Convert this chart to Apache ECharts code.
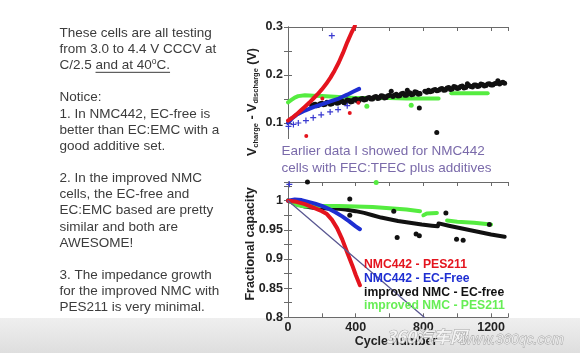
<!DOCTYPE html>
<html><head><meta charset="utf-8">
<script src="https://cdn.jsdelivr.net/npm/echarts@6/dist/echarts.min.js"></script>
<style>html,body{margin:0;padding:0;background:#fff}#c{width:580px;height:353px}</style>
</head><body><div id="c"></div>
<script>
// ---------- data ----------
const xTickLabels = [0, 400, 800, 1200];
const yTopTickLabels = [0.1, 0.2, 0.3];
const yBotTickLabels = [0.8, 0.85, 0.9, 0.95, 1];
const legendNames = ['NMC442 - PES211', 'NMC442 - EC-Free', 'improved NMC - EC-free', 'improved NMC - PES211'];

// top panel: Vcharge - Vdischarge (V) vs cycle
const topRed = [[0,0.105],[25,0.111],[50,0.118],[75,0.126],[100,0.134],[125,0.142],[150,0.151],[175,0.16],[200,0.17],[225,0.181],[250,0.194],[275,0.209],[300,0.226],[325,0.246],[350,0.268],[375,0.288],[395,0.302]];
const topRedPts = [[108,0.073],[203,0.151],[365,0.121],[416,0.142]];
const topBlue = [[0,0.1],[25,0.11],[50,0.117],[100,0.126],[150,0.133],[200,0.139],[250,0.145],[300,0.151],[350,0.159],[390,0.166],[420,0.171]];
const topBluePlus = [[3,0.093],[32,0.097],[61,0.1],[106,0.105],[149,0.111],[196,0.117],[249,0.123],[296,0.128],[350,0.136],[259,0.282]];
const topGreenA = [[0,0.143],[20,0.148],[40,0.153],[60,0.156],[100,0.158],[150,0.157],[200,0.156],[250,0.155],[300,0.154],[350,0.153],[400,0.152],[500,0.152],[600,0.152],[700,0.151],[800,0.151],[890,0.151]];
const topGreenB = [[965,0.162],[1060,0.162],[1180,0.162]];
const topGreenPts = [[466,0.135],[728,0.137]];
const topBlackA = [[140,0.137],[200,0.14],[300,0.144],[400,0.149],[500,0.153],[600,0.157],[700,0.161],[780,0.163]];
const topBlackB = [[805,0.166],[900,0.17],[1000,0.174],[1100,0.178],[1200,0.181],[1280,0.184]];
const topBlackDots = [[140,0.136],[150,0.138],[160,0.139],[170,0.136],[180,0.137],[190,0.14],[200,0.141],[210,0.138],[220,0.139],[230,0.143],[240,0.142],[250,0.139],[260,0.14],[270,0.143],[280,0.144],[290,0.141],[300,0.142],[310,0.145],[320,0.146],[330,0.142],[340,0.143],[350,0.148],[360,0.147],[370,0.144],[380,0.145],[390,0.149],[400,0.15],[410,0.146],[420,0.147],[430,0.15],[440,0.151],[450,0.148],[460,0.149],[470,0.152],[480,0.153],[490,0.15],[500,0.15],[510,0.154],[520,0.155],[530,0.151],[540,0.152],[550,0.157],[560,0.156],[570,0.152],[580,0.153],[590,0.157],[600,0.158],[610,0.166],[620,0.155],[630,0.158],[640,0.16],[650,0.156],[660,0.157],[670,0.161],[680,0.162],[690,0.158],[700,0.158],[705,0.168],[710,0.161],[720,0.163],[730,0.159],[740,0.16],[750,0.165],[760,0.164],[770,0.16],[780,0.161],[810,0.166],[820,0.164],[830,0.168],[840,0.165],[850,0.166],[860,0.169],[870,0.17],[880,0.167],[890,0.168],[900,0.171],[910,0.172],[920,0.168],[930,0.169],[940,0.173],[950,0.174],[960,0.17],[970,0.171],[980,0.176],[990,0.175],[1000,0.172],[1010,0.173],[1020,0.176],[1030,0.177],[1040,0.173],[1050,0.174],[1060,0.182],[1070,0.178],[1080,0.176],[1090,0.175],[1100,0.179],[1110,0.179],[1120,0.176],[1130,0.177],[1140,0.181],[1150,0.18],[1160,0.177],[1170,0.178],[1180,0.181],[1190,0.182],[1200,0.179],[1210,0.179],[1220,0.182],[1230,0.183],[1240,0.188],[1250,0.181],[1260,0.184],[1270,0.185],[1280,0.183]];
const topBlackOut = [[776,0.131],[879,0.08]];

// bottom panel: fractional capacity vs cycle
const botRed = [[0,1.0],[50,0.998],[100,0.994],[150,0.988],[200,0.982],[230,0.977],[260,0.967],[290,0.953],[320,0.934],[350,0.911],[380,0.889],[400,0.873],[425,0.855]];
const botBlue = [[0,1.0],[40,1.002],[80,1.001],[120,0.998],[160,0.995],[200,0.991],[240,0.986],[280,0.98],[320,0.973],[360,0.965],[400,0.956],[425,0.951]];
const botBluePlus = [[8,1.028]];
const botGreenA = [[0,1.0],[30,0.996],[60,0.992],[100,0.99],[200,0.991],[300,0.991],[400,0.99],[500,0.989],[600,0.987],[700,0.985],[780,0.982]];
const botGreenB = [[800,0.975],[820,0.978],[880,0.979]];
const botGreenC = [[940,0.966],[1000,0.964],[1100,0.962],[1200,0.959]];
const botGreenPts = [[521,1.031]];
const botBlack = [[0,1.0],[50,0.994],[100,0.99],[150,0.988],[200,0.987],[300,0.986],[340,0.985],[350,0.983],[400,0.982],[450,0.979],[500,0.975],[550,0.971],[600,0.968],[650,0.965],[700,0.963],[750,0.961],[790,0.959],[800,0.957],[850,0.957],[885,0.956],[890,0.961],[950,0.957],[1000,0.954],[1050,0.951],[1100,0.948],[1150,0.945],[1200,0.942],[1280,0.938]];
const botBlackPts = [[115,1.032],[365,1.003],[365,0.975],[625,0.982],[645,0.937],[757,0.943],[776,0.94],[933,0.979],[996,0.934],[1035,0.932],[1190,0.959]];
const botDiag = [[0,1.0],[805,0.8]];

// ---------- styling ----------
const FONT = "'Liberation Sans', Arial, Helvetica, sans-serif";
const C_RED = '#e4141e', C_BLUE = '#1e2ed2', C_BLACK = '#111111', C_GREEN = '#55ec40', C_PURPLE = '#5a5892';
const AX = '#6a6a6a';
const near = (v, arr) => arr.some(a => Math.abs(a - v) < 1e-6);

function xAxisDef(grid, pos, labels) {
  return {
    type: 'value', gridIndex: grid, position: pos, min: 0, max: 1300, interval: 200,
    axisLine: { show: !(grid === 0 && pos === 'bottom'), lineStyle: { color: AX, width: 1 } },
    axisTick: { show: !(grid === 0 && pos === 'bottom'), inside: true, length: 4, lineStyle: { color: AX } },
    splitLine: { show: false },
    axisLabel: labels ? {
      show: true, margin: 4, fontFamily: FONT, fontSize: 12.5, fontWeight: 'bold', color: '#222',
      formatter: v => near(v, xTickLabels) ? String(v) : ''
    } : { show: false }
  };
}
function yAxisDef(grid, pos, min, max, interval, labels, labelArr) {
  return {
    type: 'value', gridIndex: grid, position: pos, min, max, interval,
    axisLine: { show: true, lineStyle: { color: AX, width: 1 } },
    axisTick: { show: true, inside: true, length: 4, lineStyle: { color: AX } },
    splitLine: { show: false },
    axisLabel: labels ? {
      show: true, margin: 5, fontFamily: FONT, fontSize: 12.5, fontWeight: 'bold', color: '#222',
      showMaxLabel: true,
      formatter: v => near(v, labelArr) ? String(+v.toFixed(2)) : ''
    } : { show: false }
  };
}
function lineS(data, color, w, xi, yi, z) {
  return { type: 'line', data, xAxisIndex: xi, yAxisIndex: yi, showSymbol: false, symbol: 'none',
    lineStyle: { color, width: w, cap: 'round', join: 'round' }, z: z || 2, animation: false, clip: true, silent: true };
}
function dotS(data, color, size, xi, yi, symbol, z) {
  return { type: 'scatter', data, xAxisIndex: xi, yAxisIndex: yi, symbol: symbol || 'circle', symbolSize: size,
    itemStyle: { color, opacity: 1 }, z: z || 3, animation: false, silent: true };
}
const PLUS = 'path://M4,0h2v4h4v2h-4v4h-2v-4h-4v-2h4z';

// ---------- left text ----------
const ctx = document.createElement('canvas').getContext('2d');
const TFS = 13.5;
ctx.font = TFS + 'px ' + FONT;
const textLines = [
  'These cells are all testing',
  'from 3.0 to 4.4 V CCCV at',
  '__DEG__',
  '',
  'Notice:',
  '1. In NMC442, EC-free is',
  'better than EC:EMC with a',
  'good additive set.',
  '',
  '2. In the improved NMC',
  'cells, the EC-free and',
  'EC:EMC based are pretty',
  'similar and both are',
  'AWESOME!',
  '',
  '3. The impedance growth',
  'for the improved NMC with',
  'PES211 is very minimal.'
];
const TX = 59.5, TY0 = 33, TLH = 16.16;
const graphics = [];
// bottom gray band of the slide photo
graphics.push({ type: 'rect', z: -5, shape: { x: 0, y: 318, width: 580, height: 35 },
  style: { fill: new echarts.graphic.LinearGradient(0, 0, 0, 1, [{ offset: 0, color: '#efefef' }, { offset: 1, color: '#dedede' }]) } });

textLines.forEach((t, i) => {
  if (!t) return;
  const y = TY0 + i * TLH;
  if (t === '__DEG__') {
    const pre = 'C/2.5 ', mid = 'and at 40', post = 'C.';
    graphics.push({ type: 'text', x: TX, y, z: 50,
      style: { text: pre + mid + '{s|o}' + post, fontFamily: FONT, fontSize: TFS, fill: '#3c3c3c',
        align: 'left', verticalAlign: 'middle', textAlign: 'left', textVerticalAlign: 'middle',
        rich: { s: { fontFamily: FONT, fontSize: 8.5, fill: '#3c3c3c', padding: [0, 0, 8, 0] } } } });
    ctx.font = TFS + 'px ' + FONT;
    const x0 = TX + ctx.measureText(pre).width;
    const w1 = ctx.measureText(mid).width + ctx.measureText(post).width;
    ctx.font = '8.5px ' + FONT;
    const w2 = ctx.measureText('o').width;
    graphics.push({ type: 'line', z: 50, shape: { x1: x0, y1: y + 7, x2: x0 + w1 + w2, y2: y + 7 }, style: { stroke: '#3c3c3c', lineWidth: 1 } });
  } else {
    graphics.push({ type: 'text', x: TX, y, z: 50,
      style: { text: t, fontFamily: FONT, fontSize: TFS, fill: '#3c3c3c', align: 'left', verticalAlign: 'middle', textAlign: 'left', textVerticalAlign: 'middle' } });
  }
});

// caption box over the gap between panels
graphics.push({ type: 'rect', z: 40, shape: { x: 272, y: 139, width: 242, height: 40 }, style: { fill: '#ffffff' } });
['Earlier data I showed for NMC442', 'cells with FEC:TFEC plus additives'].forEach((t, i) => {
  graphics.push({ type: 'text', x: 281.5, y: 151.7 + i * 16.3, z: 50,
    style: { text: t, fontFamily: FONT, fontSize: 13.5, fill: '#7a6aaa', align: 'left', verticalAlign: 'middle', textAlign: 'left', textVerticalAlign: 'middle' } });
});

// axis titles
graphics.push({ type: 'text', x: 253, y: 102, rotation: Math.PI / 2, z: 50,
  style: { text: '{m|V}{s|charge}{m| - V}{s|discharge}{m| (V)}', fontFamily: FONT, align: 'center', verticalAlign: 'middle', textAlign: 'center', textVerticalAlign: 'middle',
    rich: { m: { fontFamily: FONT, fontSize: 12.5, fontWeight: 'bold', fill: '#222' },
            s: { fontFamily: FONT, fontSize: 7.5, fontWeight: 'bold', fill: '#222', padding: [6, 0, 0, 0] } } } });
graphics.push({ type: 'text', x: 250.7, y: 244, rotation: Math.PI / 2, z: 50,
  style: { text: 'Fractional capacity', fontFamily: FONT, fontSize: 12.5, fontWeight: 'bold', fill: '#222', align: 'center', verticalAlign: 'middle', textAlign: 'center', textVerticalAlign: 'middle' } });
graphics.push({ type: 'text', x: 396, y: 341.5, z: 50,
  style: { text: 'Cycle number', fontFamily: FONT, fontSize: 12.5, fontWeight: 'bold', fill: '#222', align: 'center', verticalAlign: 'middle', textAlign: 'center', textVerticalAlign: 'middle' } });

// legend texts inside the bottom panel
const legColors = [C_RED, C_BLUE, C_BLACK, '#66ee55'];
legendNames.forEach((t, i) => {
  graphics.push({ type: 'text', x: 364, y: [265, 278.5, 292.5, 305.5][i], z: 50,
    style: { text: t, fontFamily: FONT, fontSize: 12.2, fontWeight: 'bold', fill: legColors[i], align: 'left', verticalAlign: 'middle', textAlign: 'left', textVerticalAlign: 'middle' } });
});

// watermark
graphics.push({ type: 'text', x: 386, y: 337, z: 60,
  style: { text: '360汽车网', fontFamily: "'Noto Sans CJK SC', sans-serif", fontSize: 17, fontWeight: 'bold', fontStyle: 'italic', fill: 'rgba(248,248,248,0.8)', stroke: '#a0a0a0', lineWidth: 0.8, align: 'left', verticalAlign: 'middle', textAlign: 'left', textVerticalAlign: 'middle' } });
graphics.push({ type: 'text', x: 462, y: 340, z: 60,
  style: { text: 'www.360qc.com', fontFamily: FONT, fontSize: 14, fontStyle: 'italic', fill: 'rgba(248,248,248,0.8)', stroke: '#a0a0a0', lineWidth: 0.8, align: 'left', verticalAlign: 'middle', textAlign: 'left', textVerticalAlign: 'middle' } });

const option = {
  backgroundColor: '#ffffff',
  animation: false,
  grid: [
    { left: 288, top: 27, width: 220, height: 120, containLabel: false },
    { left: 288, top: 182, width: 220, height: 135.3, containLabel: false }
  ],
  xAxis: [
    xAxisDef(0, 'bottom', false), xAxisDef(0, 'top', false),
    xAxisDef(1, 'bottom', true), xAxisDef(1, 'top', false)
  ],
  yAxis: [
    yAxisDef(0, 'left', 0.05, 0.3, 0.05, true, yTopTickLabels),
    yAxisDef(0, 'right', 0.05, 0.3, 0.05, false),
    yAxisDef(1, 'left', 0.8, 1.032, 0.025, true, yBotTickLabels),
    yAxisDef(1, 'right', 0.8, 1.032, 0.025, false)
  ],
  series: [
    // top
    lineS(topGreenA, C_GREEN, 4, 0, 0, 2), lineS(topGreenB, C_GREEN, 4, 0, 0, 2), dotS(topGreenPts, C_GREEN, 5, 0, 0),
    lineS(topBlackA, C_BLACK, 3.5, 0, 0, 3), lineS(topBlackB, C_BLACK, 3.5, 0, 0, 3), dotS(topBlackDots, C_BLACK, 5, 0, 0),
    dotS(topBlackOut, C_BLACK, 5, 0, 0),
    lineS(topBlue, C_BLUE, 4, 0, 0, 4), dotS(topBluePlus, '#3a3ad0', 6, 0, 0, PLUS, 4),
    lineS(topRed, C_RED, 4, 0, 0, 5), dotS(topRedPts, C_RED, 4, 0, 0, 'circle', 5),
    // bottom
    lineS(botBlack, C_BLACK, 4, 2, 2, 2), dotS(botBlackPts, C_BLACK, 5, 2, 2),
    lineS(botGreenA, C_GREEN, 4, 2, 2, 3), lineS(botGreenB, C_GREEN, 4, 2, 2, 3), lineS(botGreenC, C_GREEN, 4, 2, 2, 3), dotS(botGreenPts, C_GREEN, 5, 2, 2),
    lineS(botBlue, C_BLUE, 4, 2, 2, 4), dotS(botBluePlus, '#3a3ad0', 6, 2, 2, PLUS, 4),
    lineS(botRed, C_RED, 4, 2, 2, 5),
    lineS(botDiag, C_PURPLE, 1.3, 2, 2, 6)
  ],
  graphic: { elements: graphics }
};
const chart = echarts.init(document.getElementById('c'), null, { renderer: 'canvas' });
chart.setOption(option);
</script></body></html>
